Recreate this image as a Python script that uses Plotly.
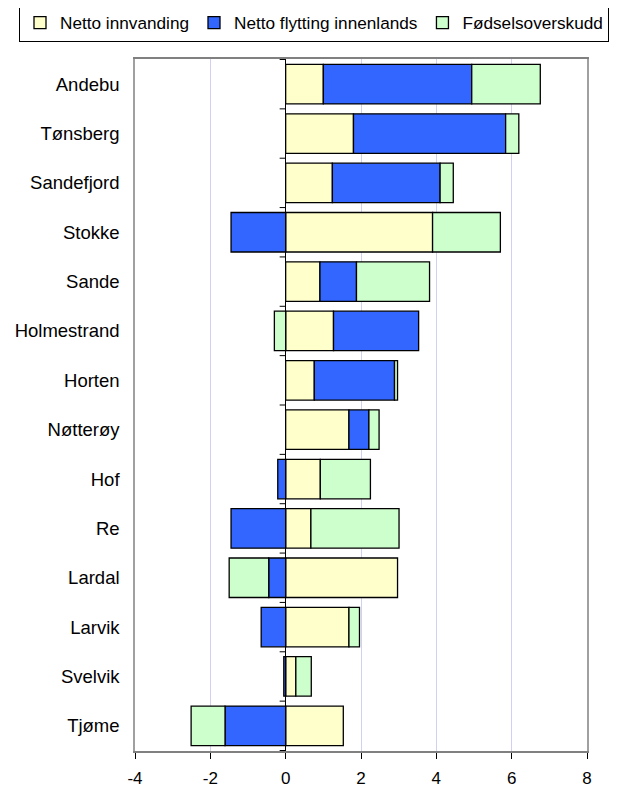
import plotly.graph_objects as go

kommuner = ["Andebu", "Tønsberg", "Sandefjord", "Stokke", "Sande", "Holmestrand",
            "Horten", "Nøtterøy", "Hof", "Re", "Lardal", "Larvik", "Svelvik", "Tjøme"]
netto_innvandring = [1.00, 1.80, 1.24, 3.90, 0.91, 1.27, 0.76, 1.68, 0.92, 0.67, 2.97, 1.68, 0.27, 1.53]
netto_flytting = [3.94, 4.04, 2.86, -1.45, 0.97, 2.26, 2.13, 0.53, -0.21, -1.45, -0.45, -0.65, -0.05, -1.61]
fodselsoverskudd = [1.82, 0.35, 0.35, 1.80, 1.94, -0.30, 0.08, 0.27, 1.33, 2.34, -1.05, 0.28, 0.41, -0.90]
x_ticks = [-4, -2, 0, 2, 4, 6, 8]

series = [
    ("Netto innvanding", netto_innvandring, "#FFFFCC"),
    ("Netto flytting innenlands", netto_flytting, "#3366FF"),
    ("Fødselsoverskudd", fodselsoverskudd, "#CCFFCC"),
]

FONT = "Liberation Sans, Arial, sans-serif"
OFF = 8  # the page body margin shifts the figure by 8 px
W, H = 623 - OFF, 789 - OFF
PL, PR, PT, PB = 135 - OFF, 587 - OFF, 59 - OFF, 751 - OFF  # plot-area edges in figure px
LEG_CX, LEG_TOP = 314 - OFF, 4 - OFF

fig = go.Figure()
for name, vals, col in series:
    fig.add_trace(go.Bar(
        y=kommuner, x=vals, name=name, orientation="h",
        marker=dict(color=col, line=dict(color="#000000", width=1.3)),
    ))

# small tick marks on the category axis, drawn at x=0 like the original
shapes = []
for i in range(len(kommuner) + 1):
    shapes.append(dict(
        type="line", xref="x", yref="y", xsizemode="pixel", xanchor=0,
        x0=-6, x1=0, y0=i - 0.5, y1=i - 0.5,
        line=dict(color="#000000", width=1),
    ))

fig.update_layout(
    width=W, height=H,
    barmode="relative", bargap=0.2,
    plot_bgcolor="#FFFFFF", paper_bgcolor="#FFFFFF",
    margin=dict(l=0, r=0, t=PT, b=H - PB, pad=0, autoexpand=False),
    font=dict(family=FONT, size=18, color="#000000"),
    shapes=shapes,
    legend=dict(
        orientation="h", x=LEG_CX / W, xanchor="center",
        y=1 + (PT - LEG_TOP) / (PB - PT), yanchor="top",
        bordercolor="#000000", borderwidth=1, bgcolor="#FFFFFF",
        font=dict(family=FONT, size=17.2), traceorder="normal",
        itemwidth=30, tracegroupgap=0,
    ),
    xaxis=dict(
        domain=[PL / W, PR / W], automargin=False,
        range=[-4, 8], tickvals=x_ticks, ticktext=[str(v) for v in x_ticks],
        showgrid=True, gridcolor="#D0D0F2", gridwidth=1,
        zeroline=True, zerolinecolor="#000000", zerolinewidth=1,
        showline=True, linecolor="#808080", linewidth=1.5, mirror=True,
        ticks="outside", ticklen=6, tickcolor="#000000",
        ticklabelstandoff=5,
        tickfont=dict(family=FONT, size=17),
    ),
    yaxis=dict(
        automargin=False,
        categoryorder="array", categoryarray=kommuner, autorange="reversed",
        showgrid=False, zeroline=False,
        showline=True, linecolor="#A0A0A0", linewidth=1.5, mirror=True,
        ticks="", ticklabelstandoff=10,
        tickfont=dict(family=FONT, size=18.5),
    ),
)

fig.write_html("out.html")
